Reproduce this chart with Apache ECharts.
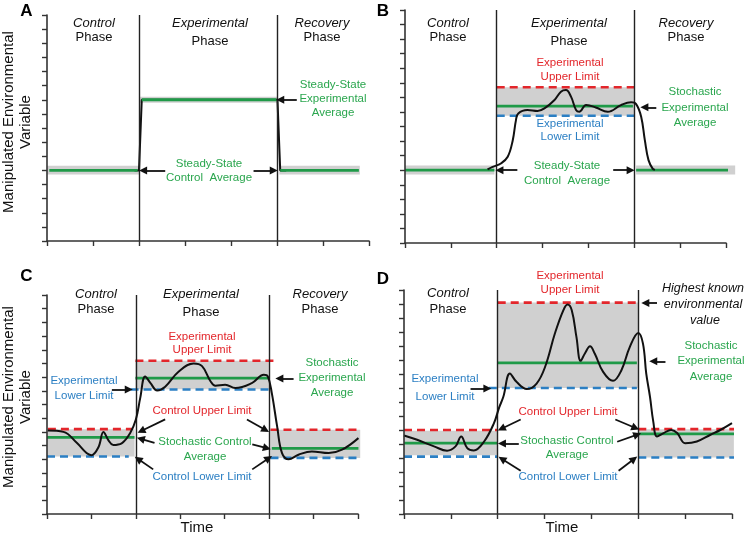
<!DOCTYPE html>
<html><head><meta charset="utf-8">
<script src="https://cdn.jsdelivr.net/npm/echarts@6/dist/echarts.min.js"></script>
<style>html,body{margin:0;padding:0;background:#fff}#c{width:748px;height:539px}</style>
</head><body><div id="c"></div>
<script>
// ---------- data ----------
const timeTicks = [0, 1, 2, 3, 4, 5, 6, 7];
const phaseBoundaries = [2, 5];
const yRange = [0, 16];

// segments: [xStart, xEnd, value]; bands: [xStart, xEnd, low, high]
// Panel A
const aTrace = [[1.9,5],[2.0,5],[2.06,10],[4.95,10],[5.01,10],[5.07,5],[5.2,5]];
const aUpper = [];
const aAvg = [[0.05,1.97,5],[2.06,4.99,10],[5.07,6.78,5]];
const aLower = [];
const aBands = [[0.0,2.0,4.7,5.33],[2.02,5.01,9.78,10.22],[5.05,6.8,4.7,5.33]];
const aArrows = [[[5.43,10],[5.07,10]],[[2.57,5],[2.09,5]],[[4.49,5],[4.93,5]]];

// Panel B
const bTrace = [[1.8,5.05],[1.91,5.23],[2.09,5.46],[2.24,5.92],[2.35,7.06],[2.42,8.44],[2.47,8.9],[2.67,9.13],[2.89,9.06],[3.04,9.24],[3.26,9.82],[3.4,10.39],[3.51,10.5],[3.62,10.05],[3.73,9.13],[3.8,9.01],[3.95,9.47],[4.16,9.31],[4.42,9.01],[4.71,9.47],[4.93,9.66],[5.04,9.54],[5.15,8.67],[5.23,7.06],[5.31,5.69],[5.4,5.11],[5.45,5.02]];
const bUpper = [[2.0,5.0,10.7]];
const bAvg = [[0,1.95,5.0],[2.0,4.97,9.4],[5.04,7.2,5.0]];
const bLower = [[2.0,5.0,8.74]];
const bBands = [[0,1.95,4.7,5.32],[2.0,5.0,8.74,10.7],[5.04,7.2,4.7,5.32]];
const bArrows = [[[5.48,9.32],[5.22,9.32]],[[2.45,5.0],[2.06,5.0]],[[4.54,5.0],[4.92,5.0]]];

// Panel C
const cTrace = [[0.02,6.1],[0.37,6.0],[0.67,5.2],[0.89,4.45],[1.0,4.3],[1.16,4.9],[1.27,6.0],[1.38,5.4],[1.49,5.04],[1.68,5.16],[1.87,5.9],[2.0,6.9],[2.1,8.5],[2.21,10.05],[2.33,9.56],[2.48,9.03],[2.66,9.3],[2.96,10.4],[3.3,11.0],[3.49,10.8],[3.68,9.7],[3.79,9.37],[4.01,9.44],[4.24,9.2],[4.61,9.56],[4.88,10.17],[4.97,10.05],[5.06,8.83],[5.18,6.4],[5.29,4.45],[5.44,4.0],[5.66,4.33],[5.96,4.57],[6.34,4.45],[6.64,4.7],[7.01,5.55]];
const cUpper = [[0.02,1.91,6.2],[1.99,5.14,11.2],[5.03,7.05,6.15]];
const cAvg = [[0,1.97,5.6],[1.99,4.99,9.93],[5.06,7.01,4.8]];
const cLower = [[0,1.84,4.2],[1.88,4.99,9.1],[5.03,7.05,4.1]];
const cBands = [[0,1.97,4.2,6.2],[1.99,4.99,9.12,11.2],[5.03,7.05,4.1,6.15]];
const cArrows = [[[1.46,9.1],[1.84,9.1]],[[5.55,9.9],[5.23,9.9]],[[2.66,6.91],[2.12,6.06]],[[4.5,6.91],[4.92,6.14]],[[2.42,5.2],[2.11,5.49]],[[4.62,5.09],[4.95,4.81]],[[2.39,3.26],[2.05,4.01]],[[4.62,3.26],[4.99,4.08]]];

// Panel D
const dTrace = [[0,5.61],[0.28,5.3],[0.64,4.83],[0.92,4.52],[1.1,4.83],[1.22,5.54],[1.35,4.71],[1.49,4.54],[1.71,5.18],[1.92,6.49],[2.03,7.6],[2.12,8.37],[2.26,10.03],[2.4,9.44],[2.62,8.92],[2.83,9.32],[3.01,10.5],[3.22,12.89],[3.4,14.55],[3.49,14.96],[3.58,14.55],[3.68,12.65],[3.77,10.94],[3.86,11.46],[3.97,11.98],[4.07,11.46],[4.25,10.15],[4.46,9.51],[4.64,10.27],[4.82,11.94],[5.0,12.93],[5.1,12.17],[5.17,10.03],[5.25,8.37],[5.32,6.6],[5.4,5.54],[5.54,5.78],[5.7,6.0],[5.83,5.78],[6.0,5.06],[6.25,5.18],[6.54,5.66],[6.75,6.0],[7.0,6.49]];
const dUpper = [[0,2.0,6.0],[2.0,5.0,15.1],[5.0,7.07,6.06]];
const dAvg = [[0,2.0,5.06],[2.0,4.97,10.8],[5.0,7.07,5.73]];
const dLower = [[0,2.0,4.1],[1.81,4.97,9.0],[5.0,7.07,4.04]];
const dBands = [[0,2.0,4.2,5.95],[2.0,5.0,9.0,15.1],[5.01,7.04,4.04,6.06]];
const dArrows = [[[1.42,8.97],[1.78,8.97]],[[5.4,15.07],[5.15,15.07]],[[5.58,10.91],[5.32,10.91]],[[2.49,6.75],[2.08,6.09]],[[4.51,6.75],[4.94,6.14]],[[2.45,5.04],[2.09,5.04]],[[4.55,5.16],[4.98,5.67]],[[2.49,3.09],[2.09,3.93]],[[4.58,3.09],[4.91,3.93]]];

// ---------- layout ----------
const FONT = '"Liberation Sans", Arial, sans-serif';
const COL = {red:'#e3262b', blue:'#2b7fc3', green:'#1f9a48', gtext:'#2aa64e', band:'#d0d0d0', ink:'#111', axis:'#333'};
const panels = [
  {grid:{left:47, top:15, width:322, height:226}, trace:aTrace, smooth:false, traceZ:3, upper:aUpper, avg:aAvg, lower:aLower, bands:aBands, arrows:aArrows},
  {grid:{left:405, top:10, width:321, height:233}, trace:bTrace, smooth:0.4, traceZ:5, upper:bUpper, avg:bAvg, lower:bLower, bands:bBands, arrows:bArrows},
  {grid:{left:47, top:295, width:311, height:219}, trace:cTrace, smooth:0.4, traceZ:5, upper:cUpper, avg:cAvg, lower:cLower, bands:cBands, arrows:cArrows},
  {grid:{left:404, top:290, width:328, height:224}, trace:dTrace, smooth:0.4, traceZ:5, upper:dUpper, avg:dAvg, lower:dLower, bands:dBands, arrows:dArrows}
];

const texts = [
  ['A',26.5,11,'letter'],
  ['Control',94,23,'it'],['Phase',94,37,'ph'],
  ['Experimental',210,23,'it'],['Phase',210,41,'ph'],
  ['Recovery',322,23,'it'],['Phase',322,37,'ph'],
  ['Steady-State',333,85,'g'],['Experimental',333,99,'g'],['Average',333,113,'g'],
  ['Steady-State',209,164,'g'],['Control  Average',209,178,'g'],

  ['B',383,11,'letter'],
  ['Control',448,23,'it'],['Phase',448,37,'ph'],
  ['Experimental',569,23,'it'],['Phase',569,41,'ph'],
  ['Recovery',686,23,'it'],['Phase',686,37,'ph'],
  ['Experimental',570,63,'r'],['Upper Limit',570,77,'r'],
  ['Experimental',570,124,'b'],['Lower Limit',570,137,'b'],
  ['Stochastic',695,92,'g'],['Experimental',695,108,'g'],['Average',695,123,'g'],
  ['Steady-State',567,166,'g'],['Control  Average',567,181,'g'],

  ['C',26.5,276,'letter'],
  ['Control',96,294,'it'],['Phase',96,309,'ph'],
  ['Experimental',201,294,'it'],['Phase',201,312,'ph'],
  ['Recovery',320,294,'it'],['Phase',320,309,'ph'],
  ['Experimental',202,337,'r'],['Upper Limit',202,350,'r'],
  ['Experimental',84,381,'b'],['Lower Limit',84,396,'b'],
  ['Stochastic',332,363,'g'],['Experimental',332,378,'g'],['Average',332,393,'g'],
  ['Control Upper Limit',202,411,'r'],
  ['Stochastic Control',205,442,'g'],['Average',205,457,'g'],
  ['Control Lower Limit',202,477,'b'],
  ['Time',197,528,'time'],

  ['D',383,279,'letter'],
  ['Control',448,293,'it'],['Phase',448,309,'ph'],
  ['Experimental',570,276,'r'],['Upper Limit',570,290,'r'],
  ['Highest known',703,289,'hk'],['environmental',703,305,'hk'],['value',705,321,'hk'],
  ['Stochastic',711,346,'g'],['Experimental',711,361,'g'],['Average',711,377,'g'],
  ['Experimental',445,379,'b'],['Lower Limit',445,397,'b'],
  ['Control Upper Limit',568,412,'r'],
  ['Stochastic Control',567,441,'g'],['Average',567,455,'g'],
  ['Control Lower Limit',568,477,'b'],
  ['Time',562,528,'time']
];
const textStyles = {
  letter:{font:'bold 17px '+FONT, fill:'#000'},
  it:{font:'italic 13px '+FONT, fill:'#111'},
  ph:{font:'13px '+FONT, fill:'#111'},
  hk:{font:'italic 12.5px '+FONT, fill:'#111'},
  g:{font:'11.5px '+FONT, fill:COL.gtext},
  r:{font:'11.5px '+FONT, fill:COL.red},
  b:{font:'11.5px '+FONT, fill:COL.blue},
  time:{font:'15px '+FONT, fill:'#111'}
};
const yTitles = [[17.5,122],[17.5,397]];

// ---------- build option ----------
const grids = [], xAxes = [], yAxes = [], series = [];
panels.forEach((p, i) => {
  grids.push(Object.assign({containLabel:false}, p.grid));
  xAxes.push({type:'value', gridIndex:i, min:timeTicks[0], max:timeTicks[timeTicks.length-1], interval:1, z:10,
    axisLabel:{show:false}, splitLine:{show:false},
    axisLine:{onZero:false, lineStyle:{color:COL.axis, width:1.6}},
    axisTick:{show:true, length:5, lineStyle:{color:COL.axis, width:1.4}}});
  yAxes.push({type:'value', gridIndex:i, min:yRange[0], max:yRange[1], interval:1, z:10,
    axisLabel:{show:false}, splitLine:{show:false},
    axisLine:{show:true, onZero:false, lineStyle:{color:COL.axis, width:1.6}},
    axisTick:{show:true, length:5, lineStyle:{color:COL.axis, width:1.4}}});
  // shaded bands
  series.push({type:'custom', xAxisIndex:i, yAxisIndex:i, z:1, silent:true, clip:false,
    data:p.bands, encode:{x:[0,1], y:[2,3]},
    renderItem:(params, api) => {
      const p0 = api.coord([api.value(0), api.value(3)]);
      const p1 = api.coord([api.value(1), api.value(2)]);
      return {type:'rect', shape:{x:p0[0], y:p0[1], width:p1[0]-p0[0], height:p1[1]-p0[1]}, style:{fill:COL.band}};
    }});
  const seg = (arr, color, width, type, z) => arr.forEach(s => series.push({
    type:'line', xAxisIndex:i, yAxisIndex:i, z:z, silent:true, clip:false, symbol:'none', animation:false,
    data:[[s[0], s[2]],[s[1], s[2]]], lineStyle:{color:color, width:width, type:type}}));
  seg(p.upper, COL.red, 2.6, [8,5], 2);
  seg(p.lower, COL.blue, 2.6, [8,5], 2);
  seg(p.avg, COL.green, 2.8, 'solid', 4);
  // trace
  series.push({type:'line', xAxisIndex:i, yAxisIndex:i, z:p.traceZ, silent:true, clip:false, symbol:'none',
    smooth:p.smooth, data:p.trace, lineStyle:{color:COL.ink, width:2}});
  // phase boundaries
  series.push({type:'line', xAxisIndex:i, yAxisIndex:i, z:6, silent:true, data:[], symbol:'none',
    markLine:{silent:true, symbol:['none','none'], label:{show:false}, animation:false,
      lineStyle:{color:'#222', width:1.4, type:'solid'},
      data:phaseBoundaries.map(x => ({xAxis:x}))}});
  // arrows
  series.push({type:'lines', coordinateSystem:'cartesian2d', xAxisIndex:i, yAxisIndex:i, z:7, silent:true,
    symbol:['none','triangle'], symbolSize:8,
    itemStyle:{color:COL.ink}, lineStyle:{color:COL.ink, width:1.8, opacity:1, curveness:0},
    data:p.arrows.map(a => ({coords:a}))});
});

const graphic = texts.map(t => ({type:'text', silent:true, z:20,
  style:Object.assign({text:t[0], x:t[1], y:t[2], align:'center', verticalAlign:'middle'}, textStyles[t[3]])}));
yTitles.forEach(p => graphic.push({type:'text', silent:true, z:20, x:p[0], y:p[1], rotation:Math.PI/2,
  style:{text:'Manipulated Environmental\nVariable', x:0, y:0, align:'center', verticalAlign:'middle',
    font:'15px '+FONT, fill:'#111', lineHeight:17}}));

const chart = echarts.init(document.getElementById('c'), null, {renderer:'canvas'});
chart.setOption({animation:false, backgroundColor:'#fff', grid:grids, xAxis:xAxes, yAxis:yAxes, series:series, graphic:graphic});
</script></body></html>
